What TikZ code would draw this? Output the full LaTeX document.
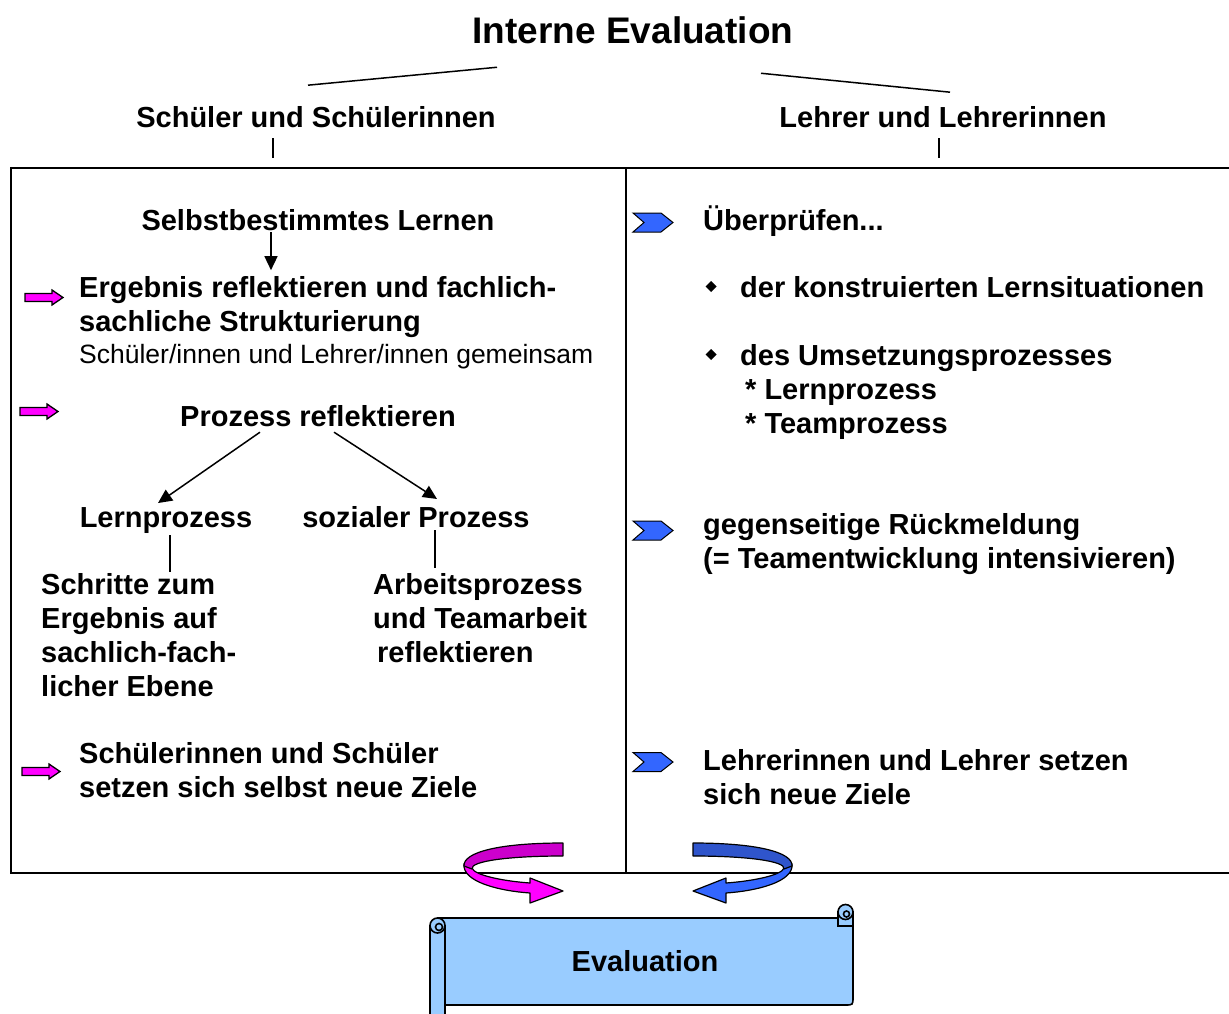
\documentclass[tikz,border=0pt]{standalone}
\usepackage{fontspec}
\setmainfont{Liberation Sans}
\usetikzlibrary{arrows.meta}
\definecolor{pinkA}{HTML}{FF00FF}
\definecolor{pinkD}{HTML}{CC00CC}
\definecolor{blueA}{HTML}{3366FF}
\definecolor{blueD}{HTML}{2F55CC}
\definecolor{scrollc}{HTML}{99CCFF}
\begin{document}
\begin{tikzpicture}[x=1pt,y=-1pt,
  bt/.style={font=\bfseries\fontsize{29}{34}\selectfont, inner sep=0pt},
  btl/.style={bt, align=left, anchor=north west},
  btc/.style={bt, anchor=base},
  btw/.style={bt, anchor=base west},
  rt/.style={font=\fontsize{26.5}{32}\selectfont, inner sep=0pt, anchor=base west},
  thin/.style={line width=1.5pt},
  boxline/.style={line width=2pt},
  arr/.style={line width=1.5pt, -{Triangle[length=14pt,width=13pt]}},
  parrow/.pic={\filldraw[fill=pinkA, line width=1.3pt, line join=miter]
      (0,-4) -- (27,-4) -- (27,-7.5) -- (38,0) -- (27,7.5) -- (27,4) -- (0,4) -- cycle;},
  bchev/.pic={\filldraw[fill=blueA, line width=1pt, line join=miter]
      (0,-9.5) -- (28,-9.5) -- (40,0) -- (28,9.5) -- (0,9.5) -- (11,0) -- cycle;},
  diam/.pic={\fill (0,-5.5) -- (5.5,0) -- (0,5.5) -- (-5.5,0) -- cycle;}
]
\useasboundingbox (0,0) rectangle (1229,1014);
\clip (0,0) rectangle (1229,1014);

% headings
\node[font=\bfseries\fontsize{37}{44}\selectfont, inner sep=0pt, anchor=base] (title) at (633,43.2) {Interne Evaluation};
\node[btc] (sl) at (316,127.4) {Schüler und Schülerinnen};
\node[btc] (ll) at (943,127.4) {Lehrer und Lehrerinnen};

\draw[thin] ([xshift=-8pt,yshift=21pt]sl.north) -- ([xshift=-136pt,yshift=-23.5pt]title.south);
\draw[thin] ([xshift=7pt,yshift=14pt]ll.north) -- ([xshift=128pt,yshift=-29.5pt]title.south);
\draw[thin] ([xshift=-43pt,yshift=-10.3pt]sl.south) -- ++(0,20);
\draw[thin] ([xshift=-4pt,yshift=-10.3pt]ll.south) -- ++(0,20);

% frame
\draw[boxline] (11,168) -- (1229,168);
\draw[boxline] (11,167) -- (11,873);
\draw[boxline] (10,873) -- (1229,873);
\draw[boxline] (626,168) -- (626,873);

% left column
\node[btc] (sel) at (318,230.4) {Selbstbestimmtes Lernen};
\draw[arr] ([xshift=-47pt,yshift=-1.3pt]sel.south) -- ++(0,38);
\pic at (25,297.5) {parrow};
\node[btl] (erg) at (79,273.6) {\strut Ergebnis reflektieren und fachlich-\\\strut sachliche Strukturierung};
\node[rt] (gem) at (79,363.5) {Schüler/innen und Lehrer/innen gemeinsam};
\pic at (20,411.5) {parrow};
\node[btc] (proz) at (318,426.4) {Prozess reflektieren};
\node[btc] (lern) at (166,527.4) {Lernprozess};
\node[btc] (soz) at (416,527.4) {sozialer Prozess};
\draw[arr] ([xshift=-58pt,yshift=-5.3pt]proz.south) -- ([xshift=-8pt,yshift=4.2pt]lern.north);
\draw[arr] ([xshift=16pt,yshift=-5.3pt]proz.south) -- ([xshift=21pt,yshift=7.2pt]soz.north);
\draw[thin] ([xshift=4pt,yshift=-1.5pt]lern.south) -- ++(0,37);
\draw[thin] ([xshift=19pt,yshift=-2.3pt]soz.south) -- ++(0,38);
\node[btl] (schr) at (41,570.6) {\strut Schritte zum\\\strut Ergebnis auf\\\strut sachlich-fach-\\\strut licher Ebene};
\node[btl] (arb) at (373,570.6) {\strut Arbeitsprozess\\\strut und Teamarbeit\\\strut\hspace*{4pt}reflektieren};
\pic at (22,771.5) {parrow};
\node[btl] (ziele) at (79,739.6) {\strut Schülerinnen und Schüler\\\strut setzen sich selbst neue Ziele};

% right column
\pic at (633,222.5) {bchev};
\node[btw] (ueb) at (703,230.4) {Überprüfen...};
\pic at (711,286.5) {diam};
\node[btw] (kon) at (740,297.4) {der konstruierten Lernsituationen};
\pic at (711,354.5) {diam};
\node[btw] (ums) at (740,365.4) {des Umsetzungsprozesses};
\node[btl] (proc) at (745,375.6) {\strut * Lernprozess\\\strut * Teamprozess};
\pic at (633,530.5) {bchev};
\node[btl] (rueck) at (703,510.6) {\strut gegenseitige Rückmeldung\\\strut (= Teamentwicklung intensivieren)};
\pic at (633,762) {bchev};
\node[btl] (lziele) at (703,746.6) {\strut Lehrerinnen und Lehrer setzen\\\strut sich neue Ziele};

% curved arrows
\begin{scope}[line width=1.2pt, line join=round]
  \filldraw[fill=pinkA] (464,864) .. controls (462,882) and (500,891) .. (530,893)
     -- (530,903) -- (563,891) -- (530,878) -- (530,883)
     .. controls (502,881) and (474,875) .. (472,868) -- cycle;
  \filldraw[fill=pinkD] (563,843) .. controls (500,843) and (463,852) .. (464,866)
     -- (472,869) .. controls (470,861) and (510,856) .. (563,856) -- cycle;
\end{scope}
\begin{scope}[shift={(1256,0)}, xscale=-1, line width=1.2pt, line join=round]
  \filldraw[fill=blueA] (464,864) .. controls (462,882) and (500,891) .. (530,893)
     -- (530,903) -- (563,891) -- (530,878) -- (530,883)
     .. controls (502,881) and (474,875) .. (472,868) -- cycle;
  \filldraw[fill=blueD] (563,843) .. controls (500,843) and (463,852) .. (464,866)
     -- (472,869) .. controls (470,861) and (510,856) .. (563,856) -- cycle;
\end{scope}

% scroll
\begin{scope}[line width=1.6pt, fill=scrollc]
  \filldraw (438,918) -- (853,918) -- (853,997) .. controls (853,1005) .. (845,1005) -- (438,1005) -- cycle;
  \filldraw (838,912) rectangle (853,926);
  \filldraw (845.5,912) circle[radius=7.5];
  \draw (846.5,914) circle[radius=3];
  \filldraw (430,926) rectangle (445,1030);
  \filldraw (437.5,925.5) circle[radius=7.5];
  \draw (439,927) circle[radius=3.5];
\end{scope}
\node[btc] (eval) at (645,971.4) {Evaluation};
\end{tikzpicture}
\end{document}
